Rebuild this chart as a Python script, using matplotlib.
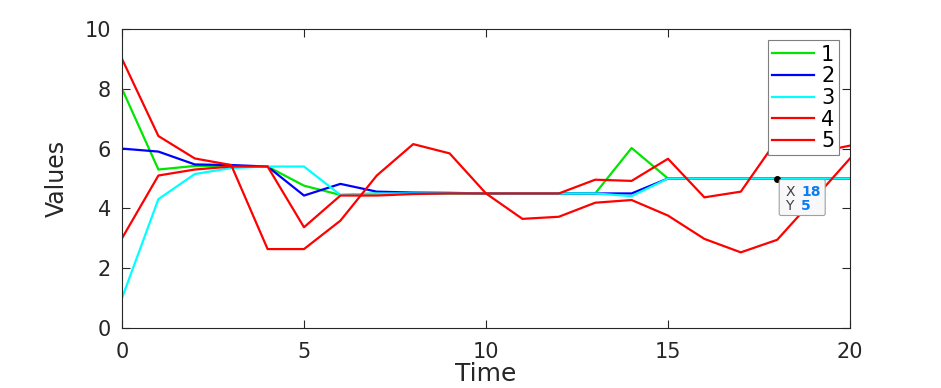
import matplotlib
matplotlib.use("Agg")
import matplotlib.pyplot as plt
import matplotlib.patches as mpatches
from matplotlib.transforms import IdentityTransform

# data
time = list(range(21))
s1 = [8.0, 5.3, 5.42, 5.42, 5.4, 4.76, 4.45, 4.5, 4.5, 4.5, 4.5,
      4.5, 4.5, 4.5, 6.02, 5.0, 5.0, 5.0, 5.0, 5.0, 5.0]
s2 = [6.0, 5.9, 5.47, 5.45, 5.4, 4.43, 4.82, 4.56, 4.53, 4.52, 4.5,
      4.5, 4.5, 4.5, 4.5, 5.0, 5.0, 5.0, 5.0, 5.0, 5.0]
s3 = [1.0, 4.31, 5.15, 5.35, 5.4, 5.4, 4.45, 4.5, 4.5, 4.5, 4.5,
      4.5, 4.5, 4.5, 4.41, 5.0, 5.0, 5.0, 5.0, 5.0, 5.0]
s4 = [9.0, 6.42, 5.67, 5.45, 2.64, 2.64, 3.59, 5.1, 6.15, 5.84, 4.5,
      3.65, 3.72, 4.19, 4.28, 3.76, 2.98, 2.53, 2.95, 4.3, 5.67]
s5 = [3.0, 5.1, 5.3, 5.4, 5.4, 3.37, 4.43, 4.43, 4.48, 4.5, 4.5,
      4.5, 4.5, 4.96, 4.92, 5.66, 4.37, 4.56, 6.3, 5.85, 6.1]
labels = ["1", "2", "3", "4", "5"]
colors = ["#00e600", "#0000ff", "#00ffff", "#ff0000", "#ff0000"]
tip_x, tip_y = 18, 5

dark = "#262626"
fig = plt.figure(figsize=(9.41, 3.88), dpi=100)
ax = fig.add_axes([122 / 941, 1 - 328 / 388, 728 / 941, 299 / 388])

for ys, lab, col in zip([s1, s2, s3, s4, s5], labels, colors):
    ax.plot(time, ys, color=col, lw=1.6, label=lab)

ax.set_xlim(0, 20)
ax.set_ylim(0, 10)
ax.set_xticks([0, 5, 10, 15, 20])
ax.set_yticks([0, 2, 4, 6, 8, 10])
ax.tick_params(direction="in", top=True, right=True, length=6, width=0.8,
               color=dark, labelcolor=dark, labelsize=15)
ax.tick_params(axis="x", pad=10)
ax.tick_params(axis="y", pad=8)
for sp in ax.spines.values():
    sp.set_color(dark)
    sp.set_linewidth(0.8)

ax.set_xlabel("Time", fontsize=18, color=dark, labelpad=0)
ax.set_ylabel("Values", fontsize=17, color=dark, labelpad=11)

leg = ax.legend(loc="upper right", fontsize=15, frameon=True, fancybox=False,
                edgecolor="#7f7f7f", framealpha=1, handlelength=2.0,
                handletextpad=0.35, labelspacing=0.08, borderpad=0.2,
                borderaxespad=0.55)
leg.get_frame().set_linewidth(0.8)

# data tip at (18, 5)
ax.plot([tip_x], [tip_y], "o", color="black", ms=4, zorder=6)
fig.canvas.draw()
px, py = ax.transData.transform((tip_x, tip_y))
box = mpatches.FancyBboxPatch((px + 2, py - 37), 46, 36,
                              boxstyle="round,pad=0,rounding_size=2",
                              transform=IdentityTransform(), facecolor="#f8f8fb",
                              edgecolor="#a0a0a0", lw=0.8, zorder=7)
fig.add_artist(box)
for dy, key, val in [(-14, "X", str(tip_x)), (-27, "Y", str(tip_y))]:
    fig.text(px + 8, py + dy, key, transform=IdentityTransform(), fontsize=10,
             color="#404040", va="center", zorder=8)
    fig.text(px + 24, py + dy, val, transform=IdentityTransform(), fontsize=10,
             color="#0a7ef0", fontweight="bold", va="center", zorder=8)

fig.savefig("out.png", dpi=100)
